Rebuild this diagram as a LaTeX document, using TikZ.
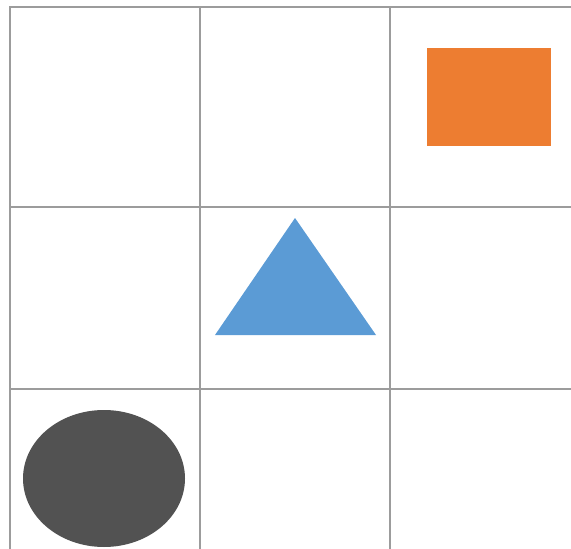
\documentclass[tikz,border=0pt]{standalone}
\definecolor{gridgray}{HTML}{9C9C9C}
\definecolor{shapeorange}{HTML}{ED7D31}
\definecolor{shapeblue}{HTML}{5B9BD5}
\definecolor{shapedark}{HTML}{525252}
\tikzset{gridline/.style={draw=gridgray,line width=1.6pt}}
\begin{document}
\begin{tikzpicture}[x=1pt,y=-1pt]
\useasboundingbox (0,0) rectangle (571,549);
% grid
\foreach \xx in {10,200,390} \draw[gridline] (\xx,6) -- (\xx,549);
\foreach \yy in {7,207,389} \draw[gridline] (9.2,\yy) -- (571,\yy);
% shapes
\fill[shapeorange] (427,48) rectangle (551,146);
\fill[shapeblue] (295,218) -- (376,335) -- (215,335) -- cycle;
\fill[shapedark] (104,478.5) ellipse [x radius=81, y radius=68.5];
\end{tikzpicture}
\end{document}
